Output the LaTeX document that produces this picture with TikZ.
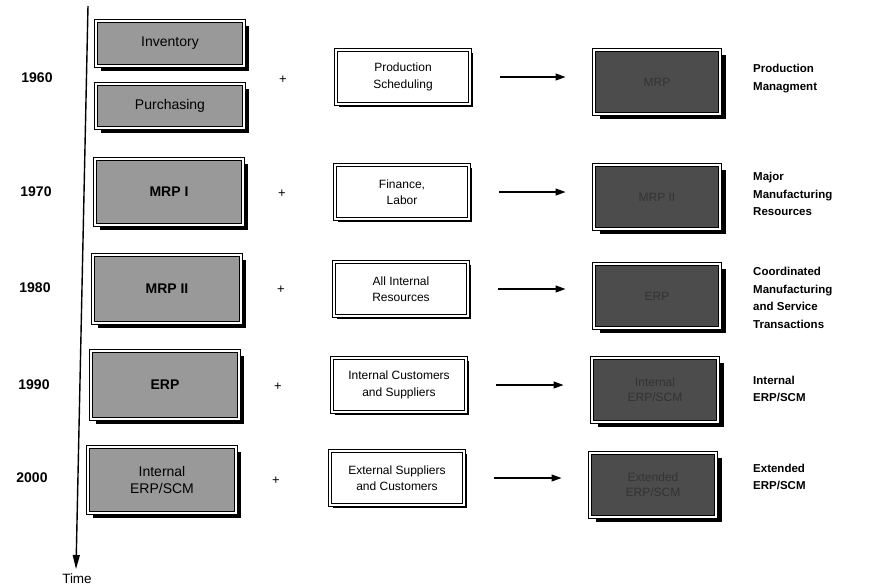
\documentclass[tikz,border=0pt]{standalone}
\usepackage{fontspec}
\setmainfont{Liberation Sans}
\usetikzlibrary{arrows.meta,shadows}
\begin{document}
\begin{tikzpicture}[x=1pt,y=-1pt,
  framebox/.style={draw=black, line width=1pt, double=white, double distance=2pt,
    align=center, inner sep=0pt},
  lbox/.style={framebox, fill=black!40, minimum width=148pt,
    drop shadow={shadow xshift=5pt, shadow yshift=-5pt, fill=black, opacity=1},
    font=\fontsize{14}{17}\selectfont},
  mbox/.style={draw=black, line width=0.8pt, double=white, double distance=1.6pt,
    fill=white, align=center, inner sep=0pt, minimum width=134pt, minimum height=54pt,
    drop shadow={shadow xshift=3pt, shadow yshift=-3pt, fill=black, opacity=1},
    font=\fontsize{12}{16.5}\selectfont},
  dbox/.style={framebox, fill=black!70, minimum width=126pt, minimum height=64pt,
    drop shadow={shadow xshift=6pt, shadow yshift=-5pt, fill=black, opacity=1},
    font=\fontsize{12}{15}\selectfont, text=black!80},
  year/.style={font=\fontsize{14}{16}\selectfont\bfseries},
  plus/.style={font=\fontsize{13}{14}\selectfont},
  rlab/.style={anchor=west, align=left, inner sep=0pt, font=\fontsize{11.5}{17.5}\selectfont\bfseries},
  arr/.style={line width=1.2pt, -{Triangle[length=10pt,width=7pt]}},
  axis/.style={line width=1.4pt, -{Triangle[length=14pt,width=7pt]}}
]
\useasboundingbox (0,0) rectangle (871,587);

% time axis
\coordinate (axtop) at (88,6);
\coordinate (axbot) at (76,569);
\draw[axis] (axtop) -- (axbot);
\node[font=\fontsize{13.5}{15}\selectfont] (time) at (77,579) {Time};

% years
\node[year] (y1960) at (37,78) {1960};
\node[year] (y1970) at (36,192) {1970};
\node[year] (y1980) at (35,288) {1980};
\node[year] (y1990) at (34,385) {1990};
\node[year] (y2000) at (32,478) {2000};

% left boxes
\node[lbox, minimum height=45pt] (inv) at (170,43.5) {Inventory};
\node[lbox, minimum height=44pt] (pur) at (170,106) {Purchasing};
\node[lbox, minimum height=66pt] (mrp1) at (169,192) {\textbf{MRP I}};
\node[lbox, minimum height=68pt] (mrp2) at (167,288.5) {\textbf{MRP II}};
\node[lbox, minimum height=68pt] (erp) at (165,385) {\textbf{ERP}};
\node[lbox, minimum height=66pt] (int) at (162,480) {Internal\\ERP/SCM};

% plus signs
\node[plus] (p1) at (283,80) {+};
\node[plus] (p2) at (282,194) {+};
\node[plus] (p3) at (281,290) {+};
\node[plus] (p4) at (278,387) {+};
\node[plus] (p5) at (276,481) {+};

% middle boxes
\node[mbox] (m1) at (403,77) {Production\\Scheduling};
\node[mbox] (m2) at (402,192) {Finance,\\Labor};
\node[mbox] (m3) at (401,289) {All Internal\\Resources};
\node[mbox] (m4) at (399,385) {Internal Customers\\and Suppliers};
\node[mbox] (m5) at (397,478) {External Suppliers\\and Customers};

% dark result boxes
\node[dbox] (d1) at (657,82) {MRP};
\node[dbox] (d2) at (657,197) {MRP II};
\node[dbox] (d3) at (657,296) {ERP};
\node[dbox] (d4) at (655,390) {Internal\\ERP/SCM};
\node[dbox] (d5) at (653,485) {Extended\\ERP/SCM};

% arrows
\foreach \m/\d in {m1/d1,m2/d2,m3/d3,m4/d4,m5/d5}
  \draw[arr, shorten <=30pt, shorten >=28pt] (\m.east) -- (\m.east -| \d.west);

% right labels
\node[rlab] (r1) at (753,78.5) {Production\\Managment};
\node[rlab] (r2) at (753,194) {Major\\Manufacturing\\Resources};
\node[rlab] (r3) at (753,298) {Coordinated\\Manufacturing\\and Service\\Transactions};
\node[rlab] (r4) at (753,389) {Internal\\ERP/SCM};
\node[rlab] (r5) at (753,477) {Extended\\ERP/SCM};
\end{tikzpicture}
\end{document}
